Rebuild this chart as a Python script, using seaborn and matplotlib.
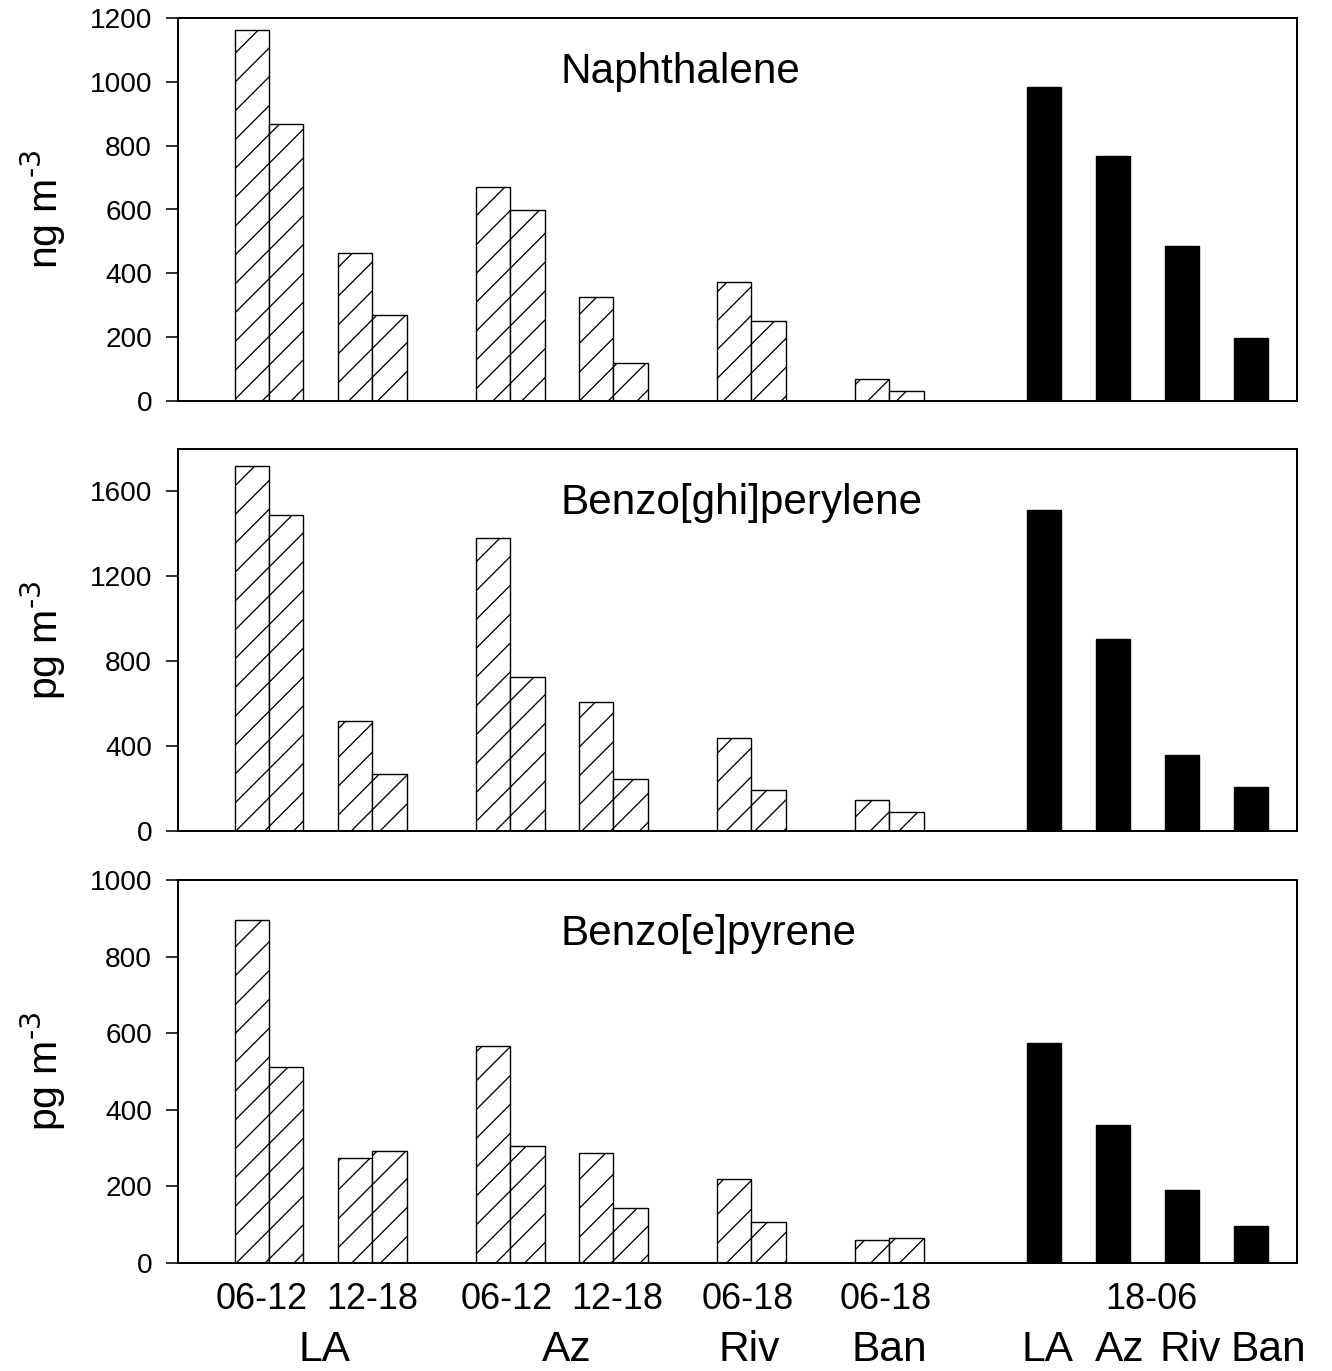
import numpy as np
import pandas as pd
import matplotlib
matplotlib.use("Agg")
import matplotlib.pyplot as plt
import seaborn as sns

# ---- data ----
sites = ['LA', 'Az', 'Riv', 'Ban']
day_periods = ['06-12', '12-18', '06-12', '12-18', '06-18', '06-18']
night_period = '18-06'

compounds = ['Naphthalene', 'Benzo[ghi]perylene', 'Benzo[e]pyrene']
units = [r'ng m$^{\text{-3}}$', r'pg m$^{\text{-3}}$', r'pg m$^{\text{-3}}$']

# daytime samples, two replicate bars per period (LA 06-12, LA 12-18, Az 06-12, Az 12-18, Riv 06-18, Ban 06-18)
naph_day = [1162, 868, 464, 269, 670, 598, 326, 119, 373, 251, 69, 31]
bghip_day = [1718, 1487, 518, 268, 1379, 725, 607, 245, 438, 193, 146, 89]
bep_day = [896, 512, 274, 292, 567, 305, 287, 144, 219, 107, 60, 65]

# nighttime 18-06 samples (LA, Az, Riv, Ban)
naph_night = [984, 768, 486, 197]
bghip_night = [1511, 904, 358, 207]
bep_night = [574, 360, 191, 97]

day_values = [naph_day, bghip_day, bep_day]
night_values = [naph_night, bghip_night, bep_night]

y_limits = [1200, 1800, 1000]
y_steps = [200, 400, 200]

# ---- layout ----
day_pos = [2, 3, 5, 6, 9, 10, 12, 13, 16, 17, 20, 21]
night_pos = [25, 27, 29, 31]
period_label_x = [2.3, 5.5, 9.4, 12.6, 16.4, 20.4, 28.1]
site_label_x = [4.1, 11.15, 16.45, 20.5, 25.1, 27.2, 29.25, 31.5]

DPI = 173  # hatch spacing is fixed per inch, so pick dpi to match it
W, H = 1332, 1371


def px(n):
    """pixels -> points at the chosen dpi"""
    return n * 72.0 / DPI


sns.set_style('ticks')
plt.rcParams['font.family'] = ['Liberation Sans', 'DejaVu Sans']
plt.rcParams['mathtext.default'] = 'regular'
plt.rcParams['hatch.linewidth'] = px(1.3)
for key in ['text.color', 'axes.labelcolor', 'xtick.color', 'ytick.color']:
    plt.rcParams[key] = 'black'

fig = plt.figure(figsize=(W / DPI, H / DPI), dpi=DPI)

panel_px = [(18, 401), (449, 831), (880, 1263)]
axes = []
for top, bottom in panel_px:
    ax = fig.add_axes([178 / W, 1 - bottom / H, 1119 / W, (bottom - top) / H])
    axes.append(ax)

for i, ax in enumerate(axes):
    df = pd.DataFrame({
        'pos': day_pos + night_pos,
        'conc': day_values[i] + night_values[i],
        'period': ['day'] * len(day_pos) + ['night'] * len(night_pos),
    })
    sns.barplot(data=df, x='pos', y='conc', hue='period', native_scale=True,
                palette={'day': 'white', 'night': 'black'}, dodge=False,
                width=1, saturation=1, errorbar=None, legend=False,
                edgecolor='black', linewidth=px(1.4), ax=ax)
    for patch in ax.patches:
        fc = patch.get_facecolor()
        if fc[0] > 0.5:
            patch.set_hatch('//')

    ax.set_xlim(-0.14, 32.34)
    ax.set_ylim(0, y_limits[i])
    ax.set_yticks(np.arange(0, y_limits[i] + 1, y_steps[i]))
    ax.set_xticks([])
    ax.set_xlabel('')
    ax.set_ylabel(units[i], fontsize=px(41))
    ax.yaxis.set_label_coords(-0.098, 0.5)
    ax.tick_params(axis='y', labelsize=px(28), length=px(12), width=px(1.6),
                   pad=px(14), colors='black')
    for sp in ax.spines.values():
        sp.set_linewidth(px(2))
        sp.set_color('black')

    ax.text(0.342, 0.831, compounds[i], transform=ax.transAxes,
            ha='left', va='baseline', fontsize=px(42.3))

# category labels under the bottom panel
ax = axes[-1]
trans = ax.get_xaxis_transform()
for x, lab in zip(period_label_x, day_periods + [night_period]):
    ax.text(x, -0.12, lab, transform=trans, ha='center', va='baseline',
            fontsize=px(36))
for x, lab in zip(site_label_x, sites + sites):
    ax.text(x, -0.256, lab, transform=trans, ha='center', va='baseline',
            fontsize=px(42.5))

fig.savefig('out.png', dpi=DPI)
